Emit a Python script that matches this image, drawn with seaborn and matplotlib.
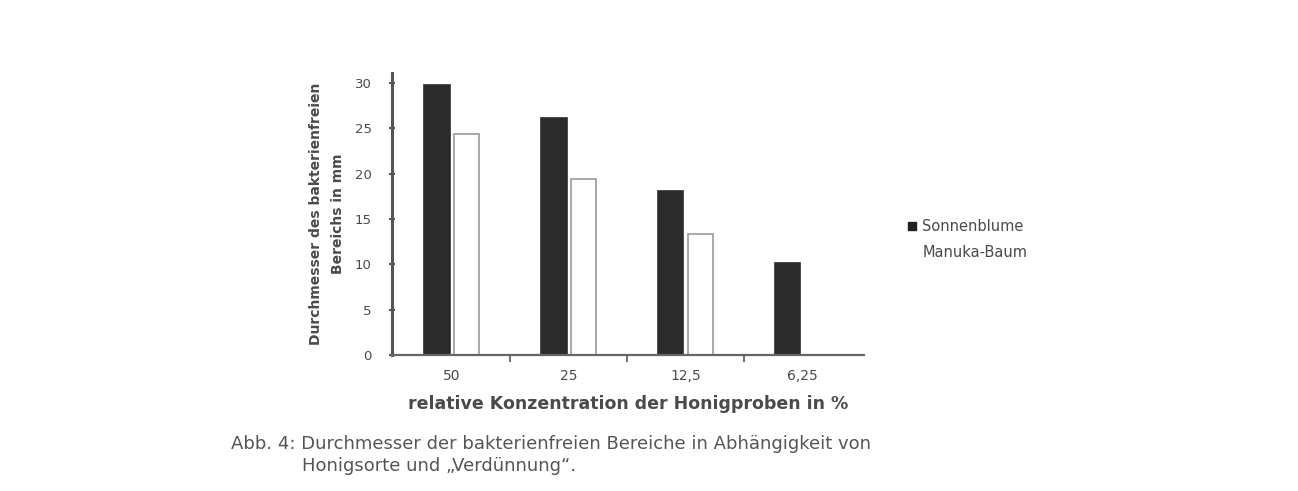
import numpy as np
import pandas as pd
import matplotlib
matplotlib.use("Agg")
import matplotlib.pyplot as plt
import seaborn as sns
from matplotlib.ticker import FixedLocator
from matplotlib.lines import Line2D

categories = ["50", "25", "12,5", "6,25"]
series_names = ["Sonnenblume", "Manuka-Baum"]
series_dark = [29.8, 26.1, 18.1, 10.2]
series_light = [24.4, 19.4, 13.3, np.nan]
y_ticks = [0, 5, 10, 15, 20, 25, 30]

df = pd.DataFrame({
    "Konzentration": categories * 2,
    "Durchmesser": series_dark + series_light,
    "Sorte": [series_names[0]] * 4 + [series_names[1]] * 4,
})

sns.set_theme(style="white")
plt.rcParams["font.family"] = ["DejaVu Sans"]

txt = "#4a4a4a"
fig = plt.figure(figsize=(12.98, 4.91), dpi=100)
ax = fig.add_axes([0.302, 0.277, 0.364, 0.574])

sns.barplot(data=df, x="Konzentration", y="Durchmesser", hue="Sorte",
            order=categories, hue_order=series_names,
            palette=["#2b2b2b", "#ffffff"], width=0.5, gap=0.14,
            edgecolor="#9a9a9a", linewidth=1.2, legend=False, ax=ax)

for p in ax.patches[:4]:
    p.set_edgecolor("#2b2b2b")

ax.set_xlim(-0.51, 3.53)
ax.set_ylim(0, 31.1)
ax.set_yticks(y_ticks)
ax.set_yticklabels([str(v) for v in y_ticks])
ax.xaxis.set_minor_locator(FixedLocator([0.5, 1.5, 2.5]))
ax.tick_params(axis="x", which="major", length=0, pad=10, labelsize=10, labelcolor=txt)
ax.tick_params(axis="x", which="minor", length=5, width=1.2, color="#555555", direction="out", bottom=True)
ax.tick_params(axis="y", length=5, width=1.5, color="#555555", direction="inout", left=True,
               labelsize=9.5, labelcolor=txt, pad=12)

for s in ["top", "right"]:
    ax.spines[s].set_visible(False)
ax.spines["left"].set_color("#555555")
ax.spines["left"].set_linewidth(2.2)
ax.spines["bottom"].set_color("#666666")
ax.spines["bottom"].set_linewidth(1.6)

ax.set_ylabel("Durchmesser des bakterienfreien\nBereichs in mm", fontsize=10, color=txt,
              fontweight="bold", labelpad=7, linespacing=1.7)
ax.set_xlabel("relative Konzentration der Honigproben in %", fontsize=12.5, color=txt,
              fontweight="bold", labelpad=9)

handles = [Line2D([], [], marker="s", linestyle="none", markersize=6, color="#222222"),
           Line2D([], [], marker="s", linestyle="none", markersize=6, color="#ffffff")]
fig.legend(handles, series_names, loc="upper left", bbox_to_anchor=(0.688, 0.58),
           frameon=False, fontsize=10.5, labelcolor=txt, handletextpad=0.3,
           labelspacing=0.75, handlelength=0.8)

fig.text(0.178, 0.095, "Abb. 4: Durchmesser der bakterienfreien Bereiche in Abhängigkeit von",
         fontsize=13, color="#555555", va="center")
fig.text(0.233, 0.05, "Honigsorte und \u201eVerdünnung\u201c.", fontsize=13, color="#555555", va="center")

fig.savefig("out.png", dpi=100, facecolor="white")
